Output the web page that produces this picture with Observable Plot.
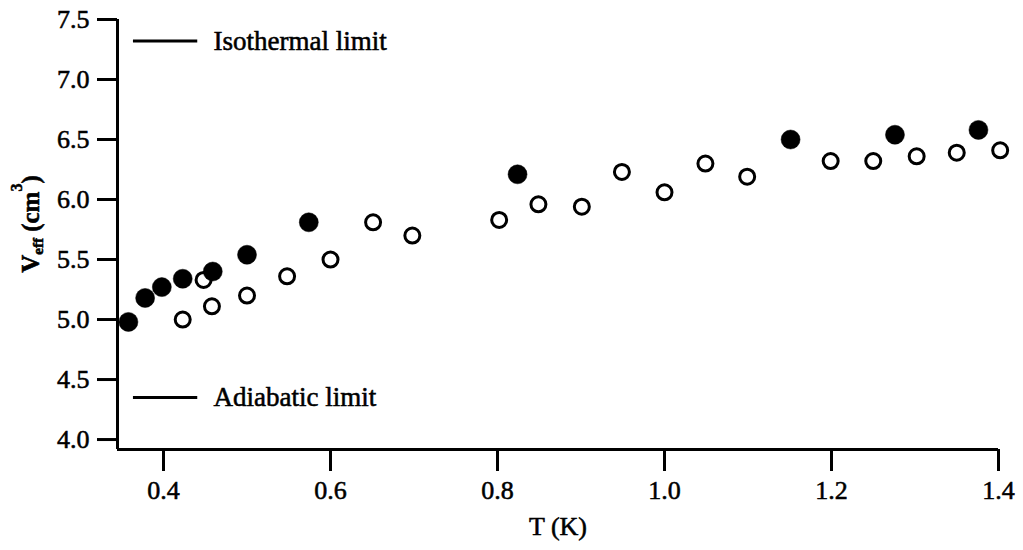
<!DOCTYPE html>
<html><head><meta charset="utf-8">
<script src="https://cdn.jsdelivr.net/npm/d3@7"></script>
<script src="https://cdn.jsdelivr.net/npm/@observablehq/plot@0.6"></script>
<style>
body{margin:0;background:#fff}
#chart svg text{stroke:black;stroke-width:0.55px;}
</style>
</head><body><div id="chart"></div>
<script>
// Filled circles
const filledT = [0.358, 0.378, 0.398, 0.423, 0.459, 0.500, 0.574, 0.824, 1.151, 1.276, 1.376];
const filledV = [4.98, 5.18, 5.27, 5.34, 5.40, 5.54, 5.81, 6.21, 6.50, 6.54, 6.58];
// Open circles
const openT = [0.423, 0.448, 0.458, 0.500, 0.548, 0.600, 0.651, 0.698, 0.802, 0.849, 0.901, 0.949, 1.000, 1.049, 1.099, 1.199, 1.250, 1.302, 1.350, 1.402];
const openV = [5.00, 5.33, 5.11, 5.20, 5.36, 5.50, 5.81, 5.70, 5.83, 5.96, 5.94, 6.23, 6.06, 6.30, 6.19, 6.32, 6.32, 6.36, 6.39, 6.41];
// Limits
const limitNames = ["Isothermal limit", "Adiabatic limit"];
const limitValues = [7.32, 4.35];
// Ticks
const xTicks = [0.4, 0.6, 0.8, 1.0, 1.2, 1.4];
const yTicks = [4.0, 4.5, 5.0, 5.5, 6.0, 6.5, 7.0, 7.5];

const filled = filledT.map((t, i) => ({t, v: filledV[i]}));
const open = openT.map((t, i) => ({t, v: openV[i]}));
const limits = limitNames.map((name, i) => ({name, v: limitValues[i]}));

const xMin = 0.3449, xMax = 1.4, yMin = 3.917, yMax = 7.5;
const fmt = d3.format(".1f");

const chart = Plot.plot({
  width: 1023,
  height: 550,
  marginLeft: 117,
  marginRight: 25,
  marginTop: 19,
  marginBottom: 101,
  style: {fontFamily: "'Liberation Serif', 'Times New Roman', serif", fontSize: "26px", color: "black", background: "white"},
  x: {domain: [xMin, xMax]},
  y: {domain: [yMin, yMax]},
  marks: [
    Plot.axisY(yTicks, {tickSize: 20, tickPadding: 8, tickFormat: fmt, strokeWidth: 3, fontSize: 26, label: null}),
    Plot.axisX(xTicks, {tickSize: 22, tickPadding: 9, tickFormat: fmt, strokeWidth: 3, fontSize: 26, label: null}),
    Plot.ruleX([xMin], {y1: yMin, y2: yMax, strokeWidth: 3}),
    Plot.ruleY([yMin], {x1: xMin, x2: xMax, strokeWidth: 3}),
    Plot.ruleY(limits, {y: "v", x1: () => 0.364, x2: () => 0.441, strokeWidth: 3}),
    Plot.text(limits, {x: () => 0.460, y: "v", text: "name", textAnchor: "start", fontSize: 27}),
    Plot.dot(open, {x: "t", y: "v", r: 7.5, stroke: "black", strokeWidth: 3, fill: "white"}),
    Plot.dot(filled, {x: "t", y: "v", r: 9.5, fill: "black", stroke: "black", strokeWidth: 0.5}),
    Plot.text(["T (K)"], {frameAnchor: "bottom", dy: 85, fontSize: 26})
  ]
});
document.getElementById("chart").append(chart);

// Rotated y-axis title with subscript and superscript
const svg = d3.select(chart);
const lab = svg.append("text")
  .attr("transform", "translate(39,224) rotate(-90)")
  .attr("text-anchor", "middle")
  .attr("font-family", "'Liberation Serif', 'Times New Roman', serif")
  .attr("font-weight", "bold")
  .attr("font-size", 25)
  .attr("fill", "black");
lab.append("tspan").text("V");
lab.append("tspan").attr("font-size", 15).attr("dy", 4).text("eff");
lab.append("tspan").attr("dy", -4).text(" (cm");
lab.append("tspan").attr("font-size", 16).attr("dy", -17).text("3");
lab.append("tspan").attr("dy", 17).text(")");
</script>
</body></html>
